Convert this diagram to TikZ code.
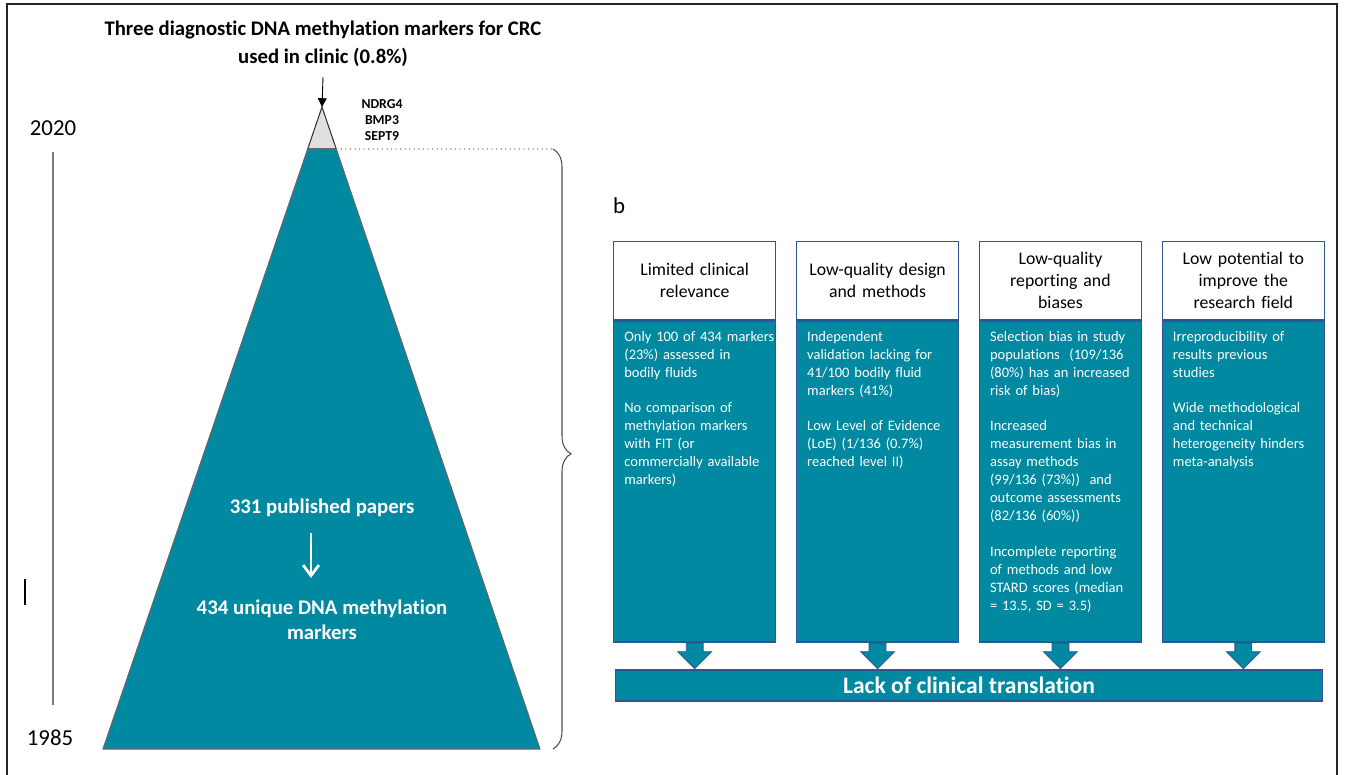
\documentclass[tikz,border=0pt]{standalone}
\usepackage{fontspec}
\setmainfont{Carlito}[Ligatures=NoCommon]
\usetikzlibrary{arrows.meta,positioning,calc,shapes.arrows,decorations.pathreplacing}

\definecolor{crcteal}{RGB}{0,137,160}
\definecolor{boxblue}{RGB}{47,85,151}
\definecolor{linegray}{RGB}{125,125,125}

\tikzset{
  hdr/.style={draw=boxblue, line width=0.8pt, fill=white, minimum width=3.24cm,
    minimum height=1.56cm, text width=3.0cm, align=center, inner sep=0pt,
    font=\fontsize{10.1}{12.5}\selectfont},
  bodybox/.style={draw=boxblue, line width=0.8pt, fill=crcteal, minimum width=3.24cm,
    minimum height=6.42cm, below=0pt of #1},
  bodytxt/.style={anchor=north west, inner xsep=0.22cm, inner ysep=0.16cm,
    text width=3.1cm, align=left, text=white,
    font=\fontsize{8.25}{10.2}\selectfont, execute at begin node=\strut},
  downarr/.style={single arrow, shape border rotate=270, draw=boxblue, line width=0.5pt,
    fill=crcteal, minimum height=0.51cm, minimum width=0.66cm, inner sep=0.16cm,
    single arrow head extend=0.17cm, anchor=tail},
  tritxt/.style={text=white, align=center, font=\bfseries\fontsize{11.85}{14.2}\selectfont},
  year/.style={font=\fontsize{13}{15}\selectfont}
}

\begin{document}
\begin{tikzpicture}[>=Latex, x=0.02cm, y=-0.02cm]
\useasboundingbox (0,0) rectangle (1345,774);
\draw[line width=1.1pt, black!85] (7,4) rectangle (1337,800);

\node[font=\bfseries\fontsize{11.8}{15.9}\selectfont, align=center] (title) at (323,44)
  {Three diagnostic DNA methylation markers for CRC\\used in clinic (0.8\%)};
\node[font=\bfseries\fontsize{7.8}{9}\selectfont, align=center] (genes) at (382,120)
  {NDRG4\\BMP3\\SEPT9};

\node[year] (y2020) at (53,128) {2020};
\node[year] (y1985) at (50,738) {1985};
\draw[linegray, line width=0.7pt, shorten <=0.2cm, shorten >=0.38cm]
  (y2020.south) -- (y2020.south |- y1985.north);
\draw[line width=1.4pt] (25,579) -- (25,605);

% pyramid
\coordinate (apex) at (322,107);
\coordinate (bl) at (103,749);
\coordinate (br) at (540,749);
\coordinate (cl) at ($(apex)!0.0654!(bl)$);
\coordinate (cr) at ($(apex)!0.0654!(br)$);
\draw[fill=black!12, draw=black!80, line width=0.6pt] (apex) -- (cr) -- (cl) -- cycle;
\draw[fill=crcteal, draw=black!60, line width=0.6pt] (cl) -- (cr) -- (br) -- (bl) -- cycle;
\draw[-{Triangle[length=5pt,width=5pt]}, line width=0.5pt] ($(title.south)+(0,4)$) -- (apex);

\coordinate (bt) at (553,149);
\coordinate (bb) at (553,749);
\draw[linegray, dotted, line width=0.6pt] (cr) -- (bt);
\draw[decorate, decoration={brace, amplitude=0.36cm, aspect=0.508}, black!70, line width=0.6pt]
  (bt) -- (bb);

\node[tritxt] (papers) at (322,508) {331 published papers};
\node[tritxt] (uniq) at (322,620) {434 unique DNA methylation\\markers};
\draw[white, line width=1.6pt, -{Straight Barb[length=6pt,width=9pt]}]
  ($(papers.south)+(-11,10)$) -- ($(uniq.north)+(-11,-16)$);

% panel b
\node[font=\fontsize{13}{15}\selectfont] (lblb) at (619,206) {b};

\node[hdr, anchor=north west] (head1) at (613,241) {Limited clinical\\relevance};
\node[hdr, right=0.39cm of head1] (head2) {Low-quality design\\and methods};
\node[hdr, right=0.39cm of head2] (head3) {Low-quality\\reporting and\\biases};
\node[hdr, right=0.39cm of head3] (head4) {Low potential to\\improve the\\research field};

\node[bodybox=head1] (body1) {};
\node[bodybox=head2] (body2) {};
\node[bodybox=head3] (body3) {};
\node[bodybox=head4] (body4) {};

\node[bodytxt] (txt1) at (body1.north west) {Only 100 of 434 markers\\(23\%) assessed in\\bodily fluids\\[10.2pt]
  No comparison of\\methylation markers\\with FIT (or\\commercially available\\markers)};
\node[bodytxt] (txt2) at (body2.north west) {Independent\\validation lacking for\\41/100 bodily fluid\\markers (41\%)\\[10.2pt]
  Low Level of Evidence\\(LoE) (1/136 (0.7\%)\\reached level II)};
\node[bodytxt] (txt3) at (body3.north west) {Selection bias in study\\populations~ (109/136\\(80\%) has an increased\\risk of bias)\\[10.2pt]
  Increased\\measurement bias in\\assay methods\\(99/136 (73\%))~ and\\outcome assessments\\(82/136 (60\%))\\[10.2pt]
  Incomplete reporting\\of methods and low\\STARD scores (median\\= 13.5, SD = 3.5)};
\node[bodytxt] (txt4) at (body4.north west) {Irreproducibility of\\results previous\\studies\\[10.2pt]
  Wide methodological\\and technical\\heterogeneity hinders\\meta-analysis};

\foreach \i in {1,...,4}
  \node[downarr] (arr\i) at (body\i.south) {};

\node[draw=boxblue, line width=0.8pt, fill=crcteal, minimum width=14.14cm, minimum height=0.62cm,
  anchor=north, text=white, font=\bfseries\fontsize{13.4}{15}\selectfont] (lack)
  at ($(arr1.tip)!0.5!(arr4.tip)$) {Lack of clinical translation};
\end{tikzpicture}
\end{document}
